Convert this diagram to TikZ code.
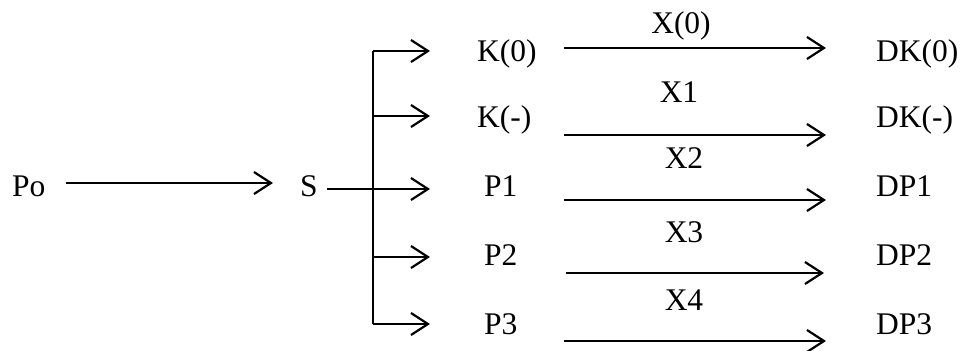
\documentclass[tikz,border=0pt]{standalone}
\usepackage{fontspec}
\setmainfont{Liberation Serif}
\usetikzlibrary{arrows.meta}
\begin{document}
\begin{tikzpicture}[x=1pt,y=-1pt,
  lbl/.style={inner sep=0pt,anchor=base west,font=\fontsize{31.5}{36}\selectfont},
  clbl/.style={inner sep=0pt,anchor=base,font=\fontsize{31.5}{36}\selectfont},
  arr/.style={line width=2.2pt,-{Straight Barb[length=17pt,width=22pt]}},
  ln/.style={line width=2.2pt}]
\useasboundingbox (0,0) rectangle (962,351);
% nodes
\node[lbl] (po) at (12,196) {Po};
\node[lbl] (s) at (300,196) {S};
\node[lbl] (k0) at (477,61) {K(0)};
\node[lbl] (km) at (477,127) {K(-)};
\node[lbl] (p1) at (484,196) {P1};
\node[lbl] (p2) at (484,265) {P2};
\node[lbl] (p3) at (484,334) {P3};
\node[lbl] (dk0) at (876,61) {DK(0)};
\node[lbl] (dkm) at (876,127) {DK(-)};
\node[lbl] (dp1) at (876,196) {DP1};
\node[lbl] (dp2) at (876,265) {DP2};
\node[lbl] (dp3) at (876,334) {DP3};
\node[clbl] (x0) at (681,33) {X(0)};
\node[clbl] (x1) at (679,102) {X1};
\node[clbl] (x2) at (684,168) {X2};
\node[clbl] (x3) at (684,242) {X3};
\node[clbl] (x4) at (684,310) {X4};
% coordinates
\coordinate (poe) at (66,183);
\coordinate (sw) at (273,183);
\coordinate (se) at (327,189);
\coordinate (bt) at (373,51);
\coordinate (bb) at (373,324);
\coordinate (b1) at (373,116);
\coordinate (b3) at (373,257);
\coordinate (e0) at (430,51);
\coordinate (e1) at (430,116);
\coordinate (e2) at (430,189);
\coordinate (e3) at (430,257);
\coordinate (e4) at (430,324);
\coordinate (r0s) at (564,48);  \coordinate (r0e) at (826,48);
\coordinate (r1s) at (564,135); \coordinate (r1e) at (826,135);
\coordinate (r2s) at (564,200); \coordinate (r2e) at (826,200);
\coordinate (r3s) at (566,273); \coordinate (r3e) at (824,273);
\coordinate (r4s) at (564,341); \coordinate (r4e) at (826,341);
% connectors
\draw[arr] (poe) -- (sw);
\draw[arr] (se) -- (e2);
\draw[ln] (bt) -- (bb);
\draw[arr] (bt) -- (e0);
\draw[arr] (b1) -- (e1);
\draw[arr] (b3) -- (e3);
\draw[arr] (bb) -- (e4);
\draw[arr] (r0s) -- (r0e);
\draw[arr] (r1s) -- (r1e);
\draw[arr] (r2s) -- (r2e);
\draw[arr] (r3s) -- (r3e);
\draw[arr] (r4s) -- (r4e);
\end{tikzpicture}
\end{document}
